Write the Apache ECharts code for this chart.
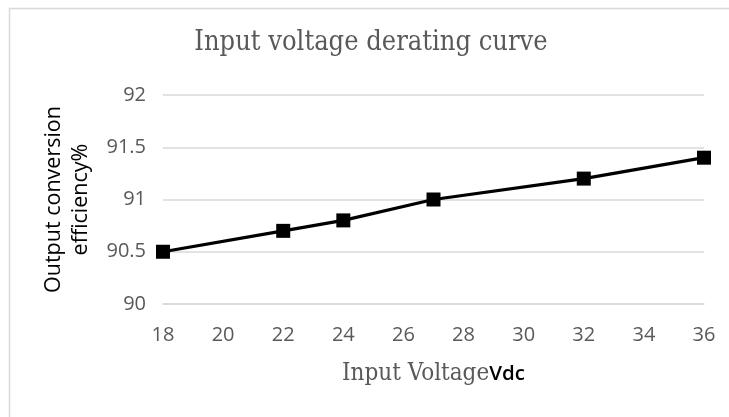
<!DOCTYPE html>
<html>
<head>
<meta charset="utf-8">
<script src="https://cdn.jsdelivr.net/npm/echarts@6/dist/echarts.min.js"></script>
<style>html,body{margin:0;padding:0;background:#fff;}#c{width:729px;height:417px;}</style>
</head>
<body>
<div id="c"></div>
<script>
const titleText = 'Input voltage derating curve';
const xName = 'Input Voltage';
const xUnit = 'Vdc';
const yName = 'Output conversion\nefficiency%';
const voltages = [18, 22, 24, 27, 32, 36];
const efficiency = [90.5, 90.7, 90.8, 91.0, 91.2, 91.4];

const serif = '"DejaVu Serif Condensed", "Liberation Serif", serif';
const sans = '"Open Sans", sans-serif';

const chart = echarts.init(document.getElementById('c'), null, {renderer: 'canvas'});
chart.setOption({
  animation: false,
  backgroundColor: '#fff',
  graphic: [{
    type: 'rect', left: 7, top: 6, z: -1,
    shape: {width: 800, height: 500},
    style: {fill: 'none', stroke: '#d9d9d9', lineWidth: 1.5}
  }, {
    type: 'text', x: 371, y: 43,
    style: {text: titleText, font: '27px ' + serif, fill: '#595959', textAlign: 'center', textVerticalAlign: 'middle'}
  }],
  grid: {left: 163, right: 25, top: 95, bottom: 113},
  xAxis: {
    type: 'value', min: 18, max: 36, interval: 2,
    name: '{a|' + xName + '}{b|' + xUnit + '}',
    nameLocation: 'middle', nameGap: 58,
    nameTextStyle: {
      rich: {
        a: {fontFamily: serif, fontSize: 24, color: '#595959'},
        b: {fontFamily: sans, fontSize: 20.5, fontWeight: 600, color: '#000'}
      }
    },
    axisLine: {show: true, lineStyle: {color: '#d9d9d9', width: 1.5}},
    axisTick: {show: false},
    splitLine: {show: false},
    axisLabel: {color: '#595959', fontFamily: sans, fontSize: 20, margin: 21}
  },
  yAxis: {
    type: 'value', min: 90, max: 92, interval: 0.5,
    name: yName, nameLocation: 'middle', nameGap: 69, nameRotate: 90,
    nameTextStyle: {color: '#000', fontFamily: sans, fontSize: 21.5, lineHeight: 27},
    axisLine: {show: false},
    axisTick: {show: false},
    splitLine: {show: true, lineStyle: {color: '#d9d9d9', width: 1.5}},
    axisLabel: {color: '#595959', fontFamily: sans, fontSize: 20, margin: 17}
  },
  series: [{
    type: 'line',
    data: voltages.map((v, i) => [v, efficiency[i]]),
    symbol: 'rect', symbolSize: 14,
    itemStyle: {color: '#000'},
    lineStyle: {color: '#000', width: 3.2}
  }]
});
</script>
</body>
</html>
